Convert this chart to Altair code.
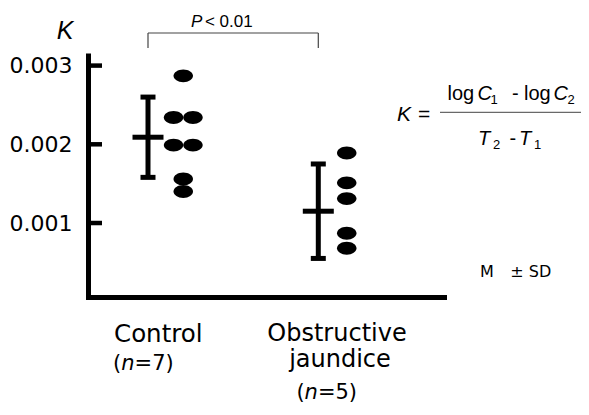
import altair as alt
import pandas as pd

# ---------------- data ----------------
groups = ["Control", "Obstructive jaundice"]
group_pos = [1, 2]
means = [0.00209, 0.00115]
sds = [0.00051, 0.00060]
control_K = [0.00287, 0.00234, 0.00234, 0.00199, 0.00199, 0.00156, 0.00140]
control_col = [0, -1, 1, -1, 1, 0, 0]
jaundice_K = [0.00189, 0.00151, 0.00131, 0.00087, 0.00068]
jaundice_col = [0, 0, 0, 0, 0]
y_ticks = [0.001, 0.002, 0.003]
n_labels = ["=7)", "=5)"]
p_label = "< 0.01"

# ---------------- layout ----------------
W, H = 356, 244
OX, OY = 88, 53          # page position of the plot origin
RIGHT, BOTTOM = 581, 402  # page limits of the drawing (keeps the page unscrolled)
PX = 170.3               # pixels per group unit
x_lo = 1 - 60 / PX
x_hi = x_lo + W / PX
x_scale = alt.Scale(domain=[x_lo, x_hi], nice=False, zero=False)
y_scale = alt.Scale(domain=[0.00006, 0.00316], nice=False, zero=False)
dot_offset = [0.207, 0.167]
col_step = 0.057
ELLIPSE = "M -1 0 A 1 0.66 0 1 0 1 0 A 1 0.66 0 1 0 -1 0 Z"

dots = pd.DataFrame(
    [{"x": group_pos[0] + dot_offset[0] + c * col_step, "K": k}
     for k, c in zip(control_K, control_col)]
    + [{"x": group_pos[1] + dot_offset[1] + c * col_step, "K": k}
       for k, c in zip(jaundice_K, jaundice_col)]
)
err = pd.DataFrame({
    "x": group_pos,
    "mean": means,
    "lo": [m - s for m, s in zip(means, sds)],
    "hi": [m + s for m, s in zip(means, sds)],
})

y_axis = alt.Axis(
    values=y_ticks, format=".3f", grid=False, ticks=False, tickSize=0,
    labelFont="DejaVu Sans", labelFontSize=22, labelColor="black", labelPadding=16,
    domainWidth=5, domainColor="black",
    title="K", titleAngle=0, titleAlign="right", titleBaseline="alphabetic",
    titleX=-15, titleY=-15, titleFont="Liberation Sans", titleFontStyle="italic",
    titleFontSize=25, titleFontWeight="normal", titleColor="black",
)
x_axis = alt.Axis(labels=False, ticks=False, grid=False, title=None,
                  domainWidth=5, domainColor="black", domainCap="square")

X = lambda f: alt.X(f, scale=x_scale, axis=x_axis, title=None)
Y = lambda f: alt.Y(f, scale=y_scale, axis=y_axis, title="K")

dots_layer = alt.Chart(dots).mark_point(
    shape=ELLIPSE, filled=True, fill="black", size=380, opacity=1, strokeWidth=0
).encode(x=X("x:Q"), y=Y("K:Q"))

vbar = alt.Chart(err).mark_rule(strokeWidth=5, color="black").encode(
    x=X("x:Q"), y=Y("lo:Q"), y2="hi:Q")
cap_lo = alt.Chart(err).mark_tick(orient="horizontal", size=15, thickness=5,
                                  color="black", opacity=1).encode(x=X("x:Q"), y=Y("lo:Q"))
cap_hi = alt.Chart(err).mark_tick(orient="horizontal", size=15, thickness=5,
                                  color="black", opacity=1).encode(x=X("x:Q"), y=Y("hi:Q"))
mean_bar = alt.Chart(err).mark_tick(orient="horizontal", size=31, thickness=5,
                                    color="black", opacity=1).encode(x=X("x:Q"), y=Y("mean:Q"))

tick_layer = alt.Chart(pd.DataFrame({"t": y_ticks})).mark_rule(
    strokeWidth=4.5, color="black").encode(
    y=Y("t:Q"), x=alt.value(0), x2=alt.value(14))

# significance bracket between the two groups
br = pd.DataFrame({"a": [group_pos[0]], "b": [group_pos[1]],
                   "m": [(group_pos[0] + group_pos[1]) / 2]})
br_h = alt.Chart(br).mark_rule(strokeWidth=1.2, color="#444").encode(
    x=X("a:Q"), x2="b:Q", y=alt.value(33 - OY))
br_l = alt.Chart(br).mark_rule(strokeWidth=1.2, color="#444").encode(
    x=X("a:Q"), y=alt.value(33 - OY), y2=alt.value(48 - OY))
br_r = alt.Chart(br).mark_rule(strokeWidth=1.2, color="#444").encode(
    x=X("b:Q"), y=alt.value(33 - OY), y2=alt.value(48 - OY))
p_italic = alt.Chart(br).mark_text(
    text="P", align="right", baseline="alphabetic", dx=-30.9,
    font="Liberation Sans", fontSize=17, fontStyle="italic", color="black"
).encode(x=X("m:Q"), y=alt.value(27 - OY))
p_rest = alt.Chart(br).mark_text(
    text=p_label, align="left", baseline="alphabetic", dx=-28.2,
    font="Liberation Sans", fontSize=17, color="black"
).encode(x=X("m:Q"), y=alt.value(27 - OY))


def group_text(gi, text, dx, y_page, size, align="center", style="normal"):
    return alt.Chart(alt.Data(values=[{"x": group_pos[gi]}])).mark_text(
        text=text, align=align, baseline="alphabetic", dx=dx,
        font="DejaVu Sans", fontSize=size, fontStyle=style, color="black"
    ).encode(x=X("x:Q"), y=alt.value(y_page - OY))


def ptext(text, x_page, y_page, size, style="normal", font="Liberation Sans"):
    return alt.Chart(alt.Data(values=[{}])).mark_text(
        text=text, align="left", baseline="alphabetic",
        font=font, fontSize=size, fontStyle=style, color="black"
    ).encode(x=alt.value(x_page - OX), y=alt.value(y_page - OY))


cat_labels = [
    group_text(0, "Control", 10.3, 341.7, 24.5),
    group_text(1, "Obstructive", 18.7, 341, 24),
    group_text(1, "jaundice", 21.7, 366.5, 24),
    # (n=7)
    group_text(0, "(", -26.75, 370.3, 21, align="right"),
    group_text(0, "n", -20.1, 370.3, 21, style="italic"),
    group_text(0, n_labels[0], -13.45, 370.3, 21, align="left"),
    # (n=5)
    group_text(1, "(", -13.7, 398.5, 21, align="right"),
    group_text(1, "n", -7.05, 398.5, 21, style="italic"),
    group_text(1, n_labels[1], -0.4, 398.5, 21, align="left"),
]

formula = [
    ptext("K", 397, 120.7, 21, "italic"),
    ptext("=", 418, 120.7, 21),
    ptext("log", 447.5, 100, 20),
    ptext("C", 477.5, 100, 20, "italic"),
    ptext("1", 490.5, 104, 13),
    ptext("-", 512, 100, 20),
    ptext("log", 524, 100, 20),
    ptext("C", 553.5, 100, 20, "italic"),
    ptext("2", 567.5, 104, 13),
    ptext("T", 478, 145, 20, "italic"),
    ptext("2", 493, 149, 13),
    ptext("-", 509.5, 145, 20),
    ptext("T", 519, 145, 20, "italic"),
    ptext("1", 534, 149, 13),
    ptext("M", 480, 276.7, 16, font="DejaVu Sans"),
    ptext("\u00b1 SD", 510.3, 276.7, 16, font="DejaVu Sans"),
]
frac_line = alt.Chart(alt.Data(values=[{}])).mark_rule(strokeWidth=1, color="#444").encode(
    x=alt.value(440 - OX), x2=alt.value(RIGHT - OX), y=alt.value(112.3 - OY))

chart = alt.layer(
    dots_layer, vbar, cap_lo, cap_hi, mean_bar, tick_layer,
    br_h, br_l, br_r, p_italic, p_rest, frac_line,
    *cat_labels, *formula,
).properties(
    width=W, height=H,
    padding={"left": OX - 8, "top": OY - 8,
             "right": RIGHT - OX - W, "bottom": BOTTOM - OY - H},
    autosize=alt.AutoSizeParams(type="none"),
).configure_view(stroke=None)

chart.save("out.html", embed_options={"renderer": "svg", "actions": False})
